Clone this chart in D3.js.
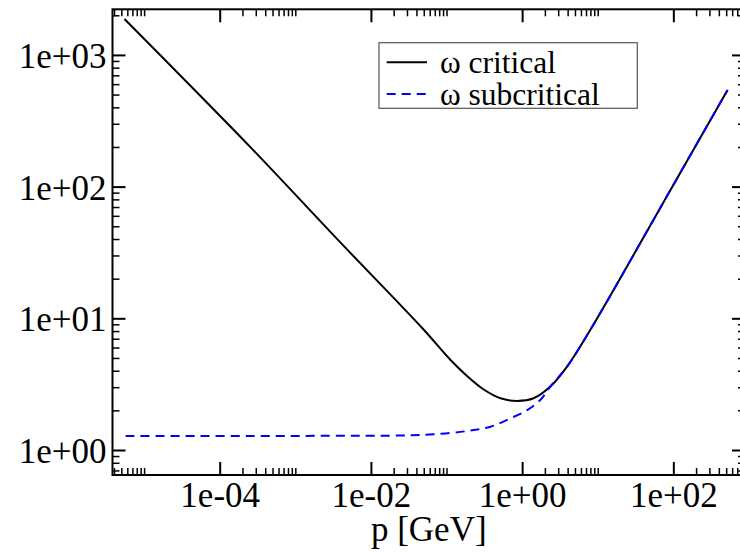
<!DOCTYPE html>
<html>
<head>
<meta charset="utf-8">
<script src="https://cdn.jsdelivr.net/npm/d3@7"></script>
<style>
  html, body { margin: 0; padding: 0; background: #fff; }
  svg { display: block; }
  text { font-family: "Liberation Serif", "Times New Roman", serif; }
</style>
</head>
<body>
<svg id="chart" width="740" height="553"></svg>
<script>
// ---- data ----
const criticalP     = [5.5e-6, 2.6e-4, 3.56e-3, 0.048, 0.113, 0.19, 0.311, 0.518, 0.86, 1.42, 2.36, 3.93, 7.96, 100, 522];
const criticalW     = [1875,   197,    40.1,    8.4,   4.83,  3.62, 2.88,  2.47,  2.36, 2.47, 3.03, 4.30, 8.15, 103, 542];
const subcriticalP  = [5.7e-6, 1.2e-3, 0.0248, 0.0682, 0.188, 0.382, 0.701, 1.165, 1.74, 2.36, 3.93, 7.96, 100, 522];
const subcriticalW  = [1.28,   1.28,   1.289,  1.316,  1.394, 1.503, 1.74,  2.01,  2.40, 3.03, 4.30, 8.15, 103, 542];
const seriesNames   = ["ω critical", "ω subcritical"];
const xTickValues   = [1e-4, 1e-2, 1e0, 1e2];
const xTickLabels   = ["1e-04", "1e-02", "1e+00", "1e+02"];
const yTickValues   = [1e0, 1e1, 1e2, 1e3];
const yTickLabels   = ["1e+00", "1e+01", "1e+02", "1e+03"];
const xTitle        = "p [GeV]";

// ---- layout ----
const L = 112.5, R = 745, T = 9.3, B = 475;
const FONT = '"Liberation Serif", "Times New Roman", serif';
const svg = d3.select("#chart");

const x = d3.scaleLog().domain([3.82e-6, 887]).range([L, R]);
const y = d3.scaleLog().domain([0.646, 2220]).range([B, T]);

// minor ticks
const xMinor = [];
for (let d = -6; d <= 2; d += 2) {
  for (let k = 2; k <= 10; k++) {
    const v = k * Math.pow(10, d);
    if (v >= x.domain()[0] && v <= x.domain()[1]) xMinor.push(v);
  }
}
const yMinor = [];
for (let d = -1; d <= 3; d++) {
  for (let k = 2; k <= 9; k++) {
    const v = k * Math.pow(10, d);
    if (v >= y.domain()[0] && v <= y.domain()[1]) yMinor.push(v);
  }
}

const MAJ = 13, MIN = 7;
function styleAxis(g, w) {
  g.select(".domain").remove();
  g.attr("font-family", FONT);
  g.selectAll(".tick line").attr("stroke", "#000").attr("stroke-width", w);
}

// bottom
svg.append("g").attr("transform", `translate(0,${B})`)
  .call(d3.axisBottom(x).tickValues(xMinor).tickSizeInner(-MIN).tickSizeOuter(0).tickFormat(""))
  .call(g => styleAxis(g, 1.5));
const xb = svg.append("g").attr("transform", `translate(0,${B})`)
  .call(d3.axisBottom(x).tickValues(xTickValues).tickSizeInner(-MAJ).tickSizeOuter(0)
        .tickFormat((d, i) => xTickLabels[i]))
  .call(g => styleAxis(g, 2));
xb.selectAll(".tick text").attr("y", 32).attr("dy", null)
  .attr("font-size", 35).attr("fill", "#000").style("font-family", FONT);

// top
svg.append("g").attr("transform", `translate(0,${T})`)
  .call(d3.axisTop(x).tickValues(xMinor).tickSizeInner(-MIN).tickSizeOuter(0).tickFormat(""))
  .call(g => styleAxis(g, 1.5));
svg.append("g").attr("transform", `translate(0,${T})`)
  .call(d3.axisTop(x).tickValues(xTickValues).tickSizeInner(-MAJ).tickSizeOuter(0).tickFormat(""))
  .call(g => styleAxis(g, 2));

// left
svg.append("g").attr("transform", `translate(${L},0)`)
  .call(d3.axisLeft(y).tickValues(yMinor).tickSizeInner(-MIN).tickSizeOuter(0).tickFormat(""))
  .call(g => styleAxis(g, 1.5));
const yl = svg.append("g").attr("transform", `translate(${L},0)`)
  .call(d3.axisLeft(y).tickValues(yTickValues).tickSizeInner(-MAJ).tickSizeOuter(0)
        .tickFormat((d, i) => yTickLabels[i]))
  .call(g => styleAxis(g, 2));
yl.selectAll(".tick text").attr("x", -6).attr("dy", "0.36em")
  .attr("font-size", 35).attr("fill", "#000").style("font-family", FONT);

// right
svg.append("g").attr("transform", `translate(${R},0)`)
  .call(d3.axisRight(y).tickValues(yMinor).tickSizeInner(-MIN).tickSizeOuter(0).tickFormat(""))
  .call(g => styleAxis(g, 1.5));
svg.append("g").attr("transform", `translate(${R},0)`)
  .call(d3.axisRight(y).tickValues(yTickValues).tickSizeInner(-MAJ).tickSizeOuter(0).tickFormat(""))
  .call(g => styleAxis(g, 2));

// frame
svg.append("rect").attr("x", L).attr("y", T).attr("width", R - L).attr("height", B - T)
  .attr("fill", "none").attr("stroke", "#000").attr("stroke-width", 2);

// curves
const line = d3.line().x(d => x(d[0])).y(d => y(d[1])).curve(d3.curveCatmullRom.alpha(0.5));
const crit = criticalP.map((p, i) => [p, criticalW[i]]);
const sub  = subcriticalP.map((p, i) => [p, subcriticalW[i]]);

svg.append("path").datum(crit).attr("d", line)
  .attr("fill", "none").attr("stroke", "#000").attr("stroke-width", 2);
svg.append("path").datum(sub).attr("d", line)
  .attr("fill", "none").attr("stroke", "#0000ff").attr("stroke-width", 2)
  .attr("stroke-dasharray", "9,6");

// axis title
svg.append("text").attr("x", (L + R) / 2).attr("y", 541).attr("text-anchor", "middle")
  .attr("font-size", 35).attr("fill", "#000").style("font-family", FONT).text(xTitle);

// legend
const lg = svg.append("g");
lg.append("rect").attr("x", 379).attr("y", 42.7).attr("width", 258.3).attr("height", 65.6)
  .attr("fill", "#fff").attr("stroke", "#555").attr("stroke-width", 1.2);
const legendRows = [
  { name: seriesNames[0], color: "#000", dash: null, y: 62.3 },
  { name: seriesNames[1], color: "#0000ff", dash: "9,6", y: 94 }
];
legendRows.forEach(r => {
  lg.append("line").attr("x1", 386.7).attr("x2", 427).attr("y1", r.y).attr("y2", r.y)
    .attr("stroke", r.color).attr("stroke-width", 2).attr("stroke-dasharray", r.dash);
  lg.append("text").attr("x", 440).attr("y", r.y + 11).attr("font-size", 31.5)
    .attr("fill", "#000").style("font-family", FONT).text(r.name);
});
</script>
</body>
</html>
